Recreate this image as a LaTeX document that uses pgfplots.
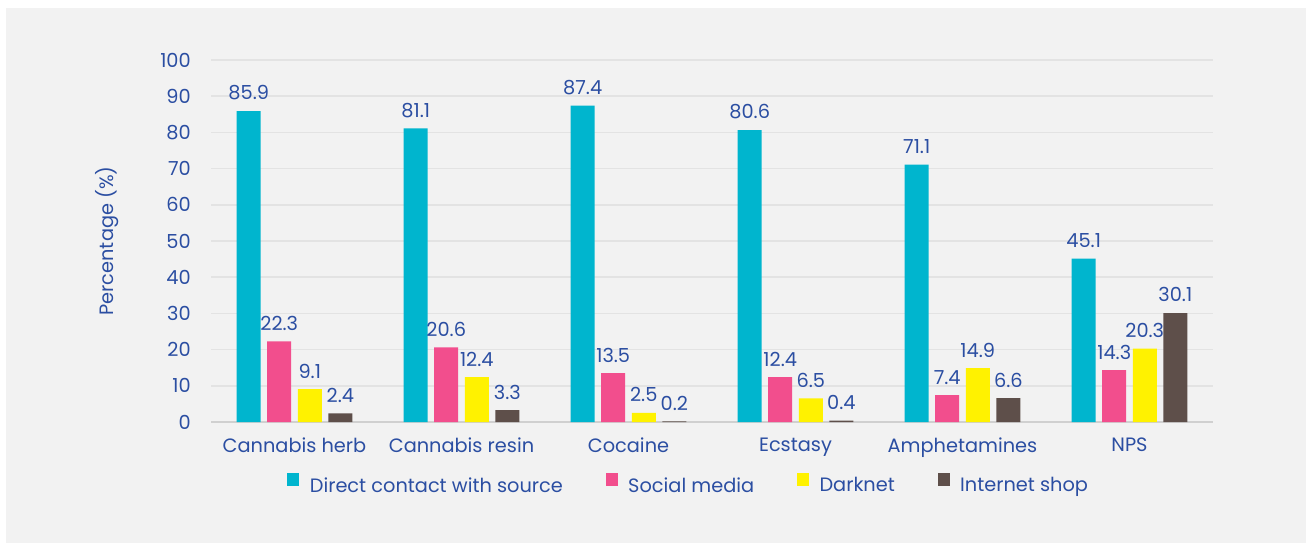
\documentclass[border=0pt]{standalone}
\usepackage{pgfplots}
\pgfplotsset{compat=1.18}
\usepackage{fontspec}
\setmainfont{Poppins}
\definecolor{bg}{HTML}{F2F2F2}
\definecolor{txt}{HTML}{2B4EA2}
\definecolor{cCyan}{HTML}{00B5CE}
\definecolor{cPink}{HTML}{F24E8D}
\definecolor{cYellow}{HTML}{FFF200}
\definecolor{cBrown}{HTML}{5E4F4A}
\definecolor{grid}{HTML}{E3E3E3}
\definecolor{axl}{HTML}{D0D0D0}
\begin{document}
\begin{tikzpicture}
\useasboundingbox (0,0) rectangle (984pt,407.25pt);
\fill[white] (0,0) rectangle (984pt,407.25pt);
\fill[bg] (4.5pt,0pt) rectangle (979.5pt,401.25pt);
\begin{axis}[
  at={(158.25pt,90.75pt)}, anchor=south west,
  scale only axis, width=751.5pt, height=271.5pt,
  ybar=4.9pt, bar width=18pt,
  xmin=-0.5, xmax=5.5, ymin=0, ymax=100,
  xtick={0,1,2,3,4,5},
  xticklabels={Cannabis herb, Cannabis resin, Cocaine, Ecstasy, Amphetamines, NPS},
  ytick={0,10,...,100},
  axis x line*=bottom, axis y line*=left,
  x axis line style={draw=axl, line width=1.5pt, -},
  y axis line style={draw=none},
  major tick length=0pt,
  ymajorgrids, major grid style={draw=grid, line width=1.1pt},
  tick label style={font=\fontsize{14.5}{16}\selectfont, text=txt},
  yticklabel style={inner sep=0pt, xshift=-15pt},
  xticklabel style={inner sep=0pt, yshift=-12pt},
  /pgf/number format/assume math mode=true,
  ylabel={Percentage (\%)},
  ylabel style={at={(axis description cs:-0.1038,0.5)}, anchor=center, font=\fontsize{14.5}{16}\selectfont, text=txt},
  nodes near coords,
  nodes near coords style={font=\fontsize{14.5}{16}\selectfont, text=txt, inner sep=0pt, anchor=south, yshift=8pt, /pgf/number format/.cd, fixed, fixed zerofill, precision=1},
  legend columns=4,
  legend style={at={(axis description cs:0.477,-0.174)}, anchor=center, draw=none, fill=none, font=\fontsize{14.5}{16}\selectfont, text=txt,
    /tikz/every odd column/.append style={column sep=6pt},
    /tikz/every even column/.append style={column sep=30pt}},
  legend image code/.code={\fill[#1] (0pt,0pt) rectangle (9pt,9.5pt);},
]
\addplot[fill=cCyan, draw=none] coordinates {(0,85.9) (1,81.1) (2,87.4) (3,80.6) (4,71.1) (5,45.1)};
\addplot[fill=cPink, draw=none] coordinates {(0,22.3) (1,20.6) (2,13.5) (3,12.4) (4,7.4) (5,14.3)};
\addplot[fill=cYellow, draw=none] coordinates {(0,9.1) (1,12.4) (2,2.5) (3,6.5) (4,14.9) (5,20.3)};
\addplot[fill=cBrown, draw=none] coordinates {(0,2.4) (1,3.3) (2,0.2) (3,0.4) (4,6.6) (5,30.1)};
\legend{Direct contact with source, Social media, Darknet, Internet shop}
\end{axis}
\end{tikzpicture}
\end{document}
